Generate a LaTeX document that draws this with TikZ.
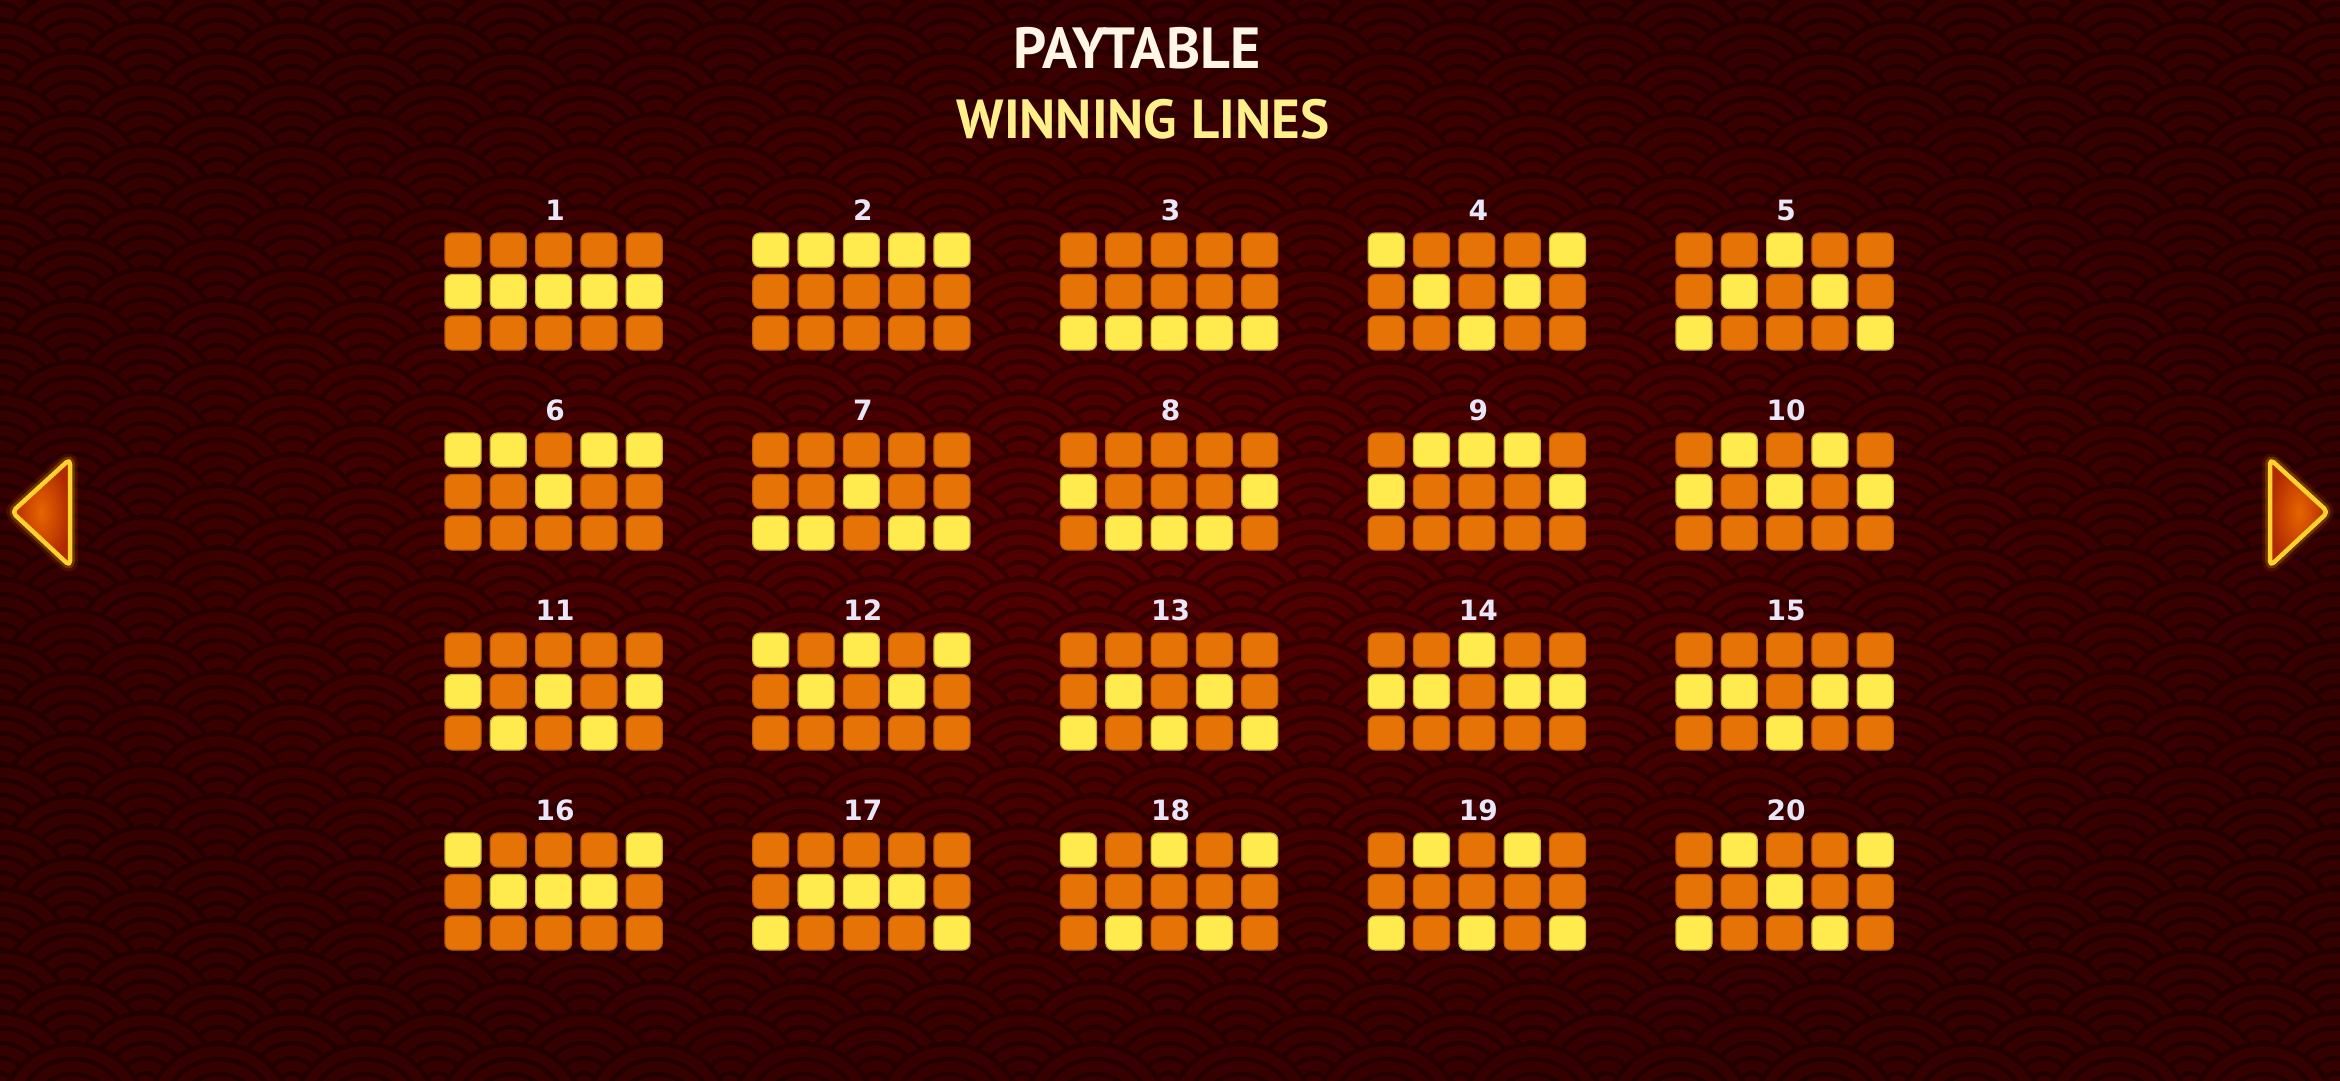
\documentclass[tikz,border=0pt]{standalone}
\usepackage{fontspec}
\setmainfont{PT Sans}
\newfontfamily\numfont{DejaVu Sans}
\usetikzlibrary{fadings,shadings}
\definecolor{bgbase}{HTML}{540101}
\definecolor{bgline}{HTML}{380000}
\definecolor{cellO}{HTML}{E67306}
\definecolor{cellOb}{HTML}{B85A10}
\definecolor{cellY}{HTML}{FFEB4D}
\definecolor{cellYb}{HTML}{C9B43A}
\definecolor{titleW}{HTML}{FFF6E6}
\definecolor{titleY}{HTML}{FFF08C}
\definecolor{numC}{HTML}{E8E6F8}
\definecolor{arrB}{HTML}{FFD22E}
\definecolor{arrIn}{HTML}{E86400}
\definecolor{arrOut}{HTML}{B02A00}
\tikzfading[name=vign, inner color=transparent!100, middle color=transparent!90, outer color=transparent!62]
\tikzset{
  cellbox/.style={rectangle, rounded corners=7pt, minimum width=36pt, minimum height=34pt, inner sep=0pt, line width=1.2pt},
  cellorange/.style={cellbox, fill=cellO, draw=cellOb},
  cellyellow/.style={cellbox, fill=cellY, draw=cellYb},
  numlabel/.style={text=numC, font=\numfont\bfseries\fontsize{28}{30}\selectfont, inner sep=0pt},
  titletext/.style={text=titleW, font=\bfseries\fontsize{58}{60}\selectfont, inner sep=0pt},
  subtitletext/.style={text=titleY, font=\bfseries\fontsize{55}{57}\selectfont, inner sep=0pt},
  arrowglowa/.style={line width=16pt, draw=orange, draw opacity=0.10, line join=round},
  arrowglowb/.style={line width=10pt, draw=orange!60!yellow, draw opacity=0.22, line join=round},
  arrowborder/.style={line width=4.5pt, draw=arrB, line join=round},
}
\begin{document}
\begin{tikzpicture}[x=1pt, y=-1pt]
\useasboundingbox (0,0) rectangle (2340,1080);
% background
\begin{scope}
  \clip (0,0) rectangle (2340,1080);
  \fill[bgbase] (-10,-10) rectangle (2350,1090);
  \foreach \k in {0,...,37} {
    \pgfmathsetmacro\yy{-30+31*\k}
    \pgfmathsetmacro\off{mod(\k,2)*73}
    \foreach \m in {-1,...,16} {
      \pgfmathsetmacro\xx{\off+146*\m}
      \fill[bgbase] (\xx,\yy) circle[radius=75pt];
      \foreach \rr in {73,58,43,28,13} {
        \draw[bgline, line width=4.5pt] (\xx,\yy) circle[radius=\rr pt];
      }
    }
  }
  \fill[black, path fading=vign, fit fading=true] (-60,-60) rectangle (2400,1140);
\end{scope}

% titles
\node[titletext] (title) at (1137,48) {PAYTABLE};
\node[subtitletext] (subtitle) at (1143,119) {WINNING LINES};

% grids
\foreach \n/\a/\b/\c/\d/\e in {1/1/1/1/1/1, 2/0/0/0/0/0, 3/2/2/2/2/2, 4/0/1/2/1/0, 5/2/1/0/1/2,
  6/0/0/1/0/0, 7/2/2/1/2/2, 8/1/2/2/2/1, 9/1/0/0/0/1, 10/1/0/1/0/1,
  11/1/2/1/2/1, 12/0/1/0/1/0, 13/2/1/2/1/2, 14/1/1/0/1/1, 15/1/1/2/1/1,
  16/0/1/1/1/0, 17/2/1/1/1/2, 18/0/2/0/2/0, 19/2/0/2/0/2, 20/2/0/1/2/0} {
  \pgfmathsetmacro\gx{445+307.75*mod(\n-1,5)}
  \pgfmathsetmacro\gy{233+200*int((\n-1)/5)}
  \node[numlabel] (num\n) at (\gx+110,\gy-23) {\n};
  \foreach \col/\r in {0/\a,1/\b,2/\c,3/\d,4/\e} {
    \foreach \row in {0,1,2} {
      \ifnum\row=\r\relax \def\cst{cellyellow}\else\def\cst{cellorange}\fi
      \node[\cst] (cell\n-\row-\col) at (\gx+18+45.3*\col, \gy+17+41.5*\row) {};
    }
  }
}

% left arrow
\foreach \s in {arrowglowa, arrowglowb} {
  \draw[\s, rounded corners=5pt] (70,459) -- (12,512) -- (70,566) -- cycle;
}
\shade[inner color=arrIn, outer color=arrOut, rounded corners=5pt] (70,459) -- (12,512) -- (70,566) -- cycle;
\draw[arrowborder, rounded corners=5pt] (70,459) -- (12,512) -- (70,566) -- cycle;
% right arrow
\foreach \s in {arrowglowa, arrowglowb} {
  \draw[\s, rounded corners=5pt] (2270,459) -- (2328,512) -- (2270,566) -- cycle;
}
\shade[inner color=arrIn, outer color=arrOut, rounded corners=5pt] (2270,459) -- (2328,512) -- (2270,566) -- cycle;
\draw[arrowborder, rounded corners=5pt] (2270,459) -- (2328,512) -- (2270,566) -- cycle;
\end{tikzpicture}
\end{document}
